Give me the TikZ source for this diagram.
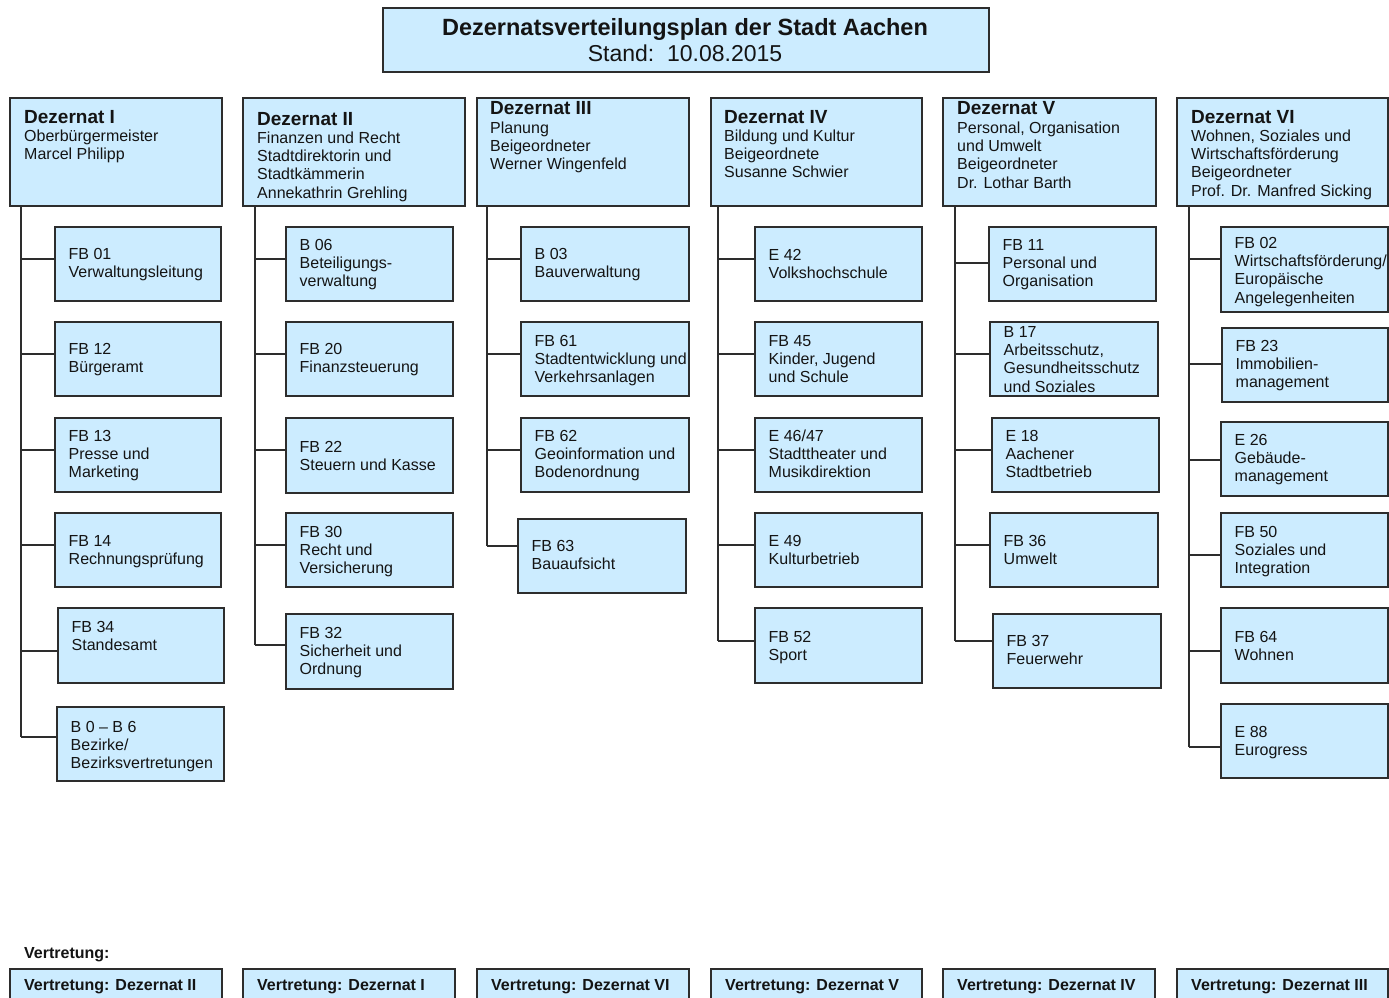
\documentclass[tikz,border=0pt]{standalone}
\usepackage{fontspec}
\setmainfont{Liberation Sans}
\definecolor{boxfill}{RGB}{204,236,255}
\definecolor{boxline}{RGB}{45,45,45}
\definecolor{ink}{RGB}{20,20,20}
\tikzset{
  box/.style={draw=boxline, fill=boxfill, line width=1.4pt, anchor=north west, inner sep=0pt, outer sep=0pt},
  txt/.style={anchor=north west, inner sep=0pt, align=left, text=ink, font=\fontsize{16}{18.3}\selectfont, yshift=7pt},
  head/.style={anchor=base west, inner sep=0pt, text=ink, font=\fontsize{19}{21}\selectfont\bfseries},
  foot/.style={anchor=base west, inner sep=0pt, text=ink, font=\fontsize{16}{18}\selectfont\bfseries},
  conn/.style={draw=boxline, line width=1.4pt},
}
% child box: trunk, name, x1, y1, x2, y2, connector y, first-line y, text
\newcommand\kid[9]{%
  \node[box, minimum width={#5-#3}, minimum height={#6-#4}] (#2) at (#3,#4) {};
  \node[txt] (#2t) at (#3+13.5,#8) {\rule{0pt}{13pt}#9};
  \draw[conn] (#1 |- 0,#7) -- (#2.west |- 0,#7);
}
% dezernat box: name, x1, x2, text x, heading y, body y, heading, body
\newcommand\dez[8]{%
  \node[box, minimum width={#3-#2}, minimum height=108] (#1) at (#2,98) {};
  \node[head] (#1h) at (#4,#5+7) {#7};
  \node[txt] (#1b) at (#4,#6) {\rule{0pt}{13pt}#8};
}
% deputy box: name, x1, x2, text
\newcommand\vtr[4]{%
  \node[box, minimum width={#3-#2}, minimum height=45] (#1) at (#2,969) {};
  \node[foot] (#1t) at (#2+14,990.7) {#4};
}
\begin{document}
\begin{tikzpicture}[x=1pt,y=-1pt]
\useasboundingbox[fill=white] (0,0) rectangle (1389,998);

% title
\node[box, minimum width=606, minimum height=64] (title) at (383,8) {};
\node[anchor=base, inner sep=0pt, text=ink, font=\fontsize{23.5}{26}\selectfont\bfseries] (t1) at (685,35.4) {Dezernatsverteilungsplan der Stadt Aachen};
\node[anchor=base, inner sep=0pt, text=ink, font=\fontsize{23}{26}\selectfont] (t2) at (685,61.2) {Stand:~~10.08.2015};

% Dezernate
\dez{dI}{10}{222}{24}{116}{135}{Dezernat I}{Oberbürgermeister\\Marcel Philipp}
\dez{dII}{243}{465}{257}{118}{137}{Dezernat II}{Finanzen und Recht\\Stadtdirektorin und\\Stadtkämmerin\\Annekathrin Grehling}
\dez{dIII}{477}{689}{490}{107}{127}{Dezernat III}{Planung\\Beigeordneter\\Werner Wingenfeld}
\dez{dIV}{711}{922}{724}{116}{135}{Dezernat IV}{Bildung und Kultur\\Beigeordnete\\Susanne Schwier}
\dez{dV}{943}{1156}{957}{107}{127}{Dezernat V}{Personal, Organisation\\und Umwelt\\Beigeordneter\\Dr. Lothar Barth}
\dez{dVI}{1177}{1388}{1191}{116}{135}{Dezernat VI}{Wohnen, Soziales und\\Wirtschaftsförderung\\Beigeordneter\\Prof. Dr. Manfred Sicking}

% trunks
\coordinate (tI) at (21,0);
\coordinate (tII) at (255,0);
\coordinate (tIII) at (487,0);
\coordinate (tIV) at (718,0);
\coordinate (tV) at (955,0);
\coordinate (tVI) at (1189,0);

\draw[conn] (tI |- dI.south) -- (tI |- 0,737);
\draw[conn] (tII |- dII.south) -- (tII |- 0,645);
\draw[conn] (tIII |- dIII.south) -- (tIII |- 0,546);
\draw[conn] (tIV |- dIV.south) -- (tIV |- 0,641);
\draw[conn] (tV |- dV.south) -- (tV |- 0,641);
\draw[conn] (tVI |- dVI.south) -- (tVI |- 0,747);

% Dezernat I
\kid{tI}{a01}{55}{227}{221}{301}{259}{253}{FB 01\\Verwaltungsleitung}
\kid{tI}{a12}{55}{322}{221}{396}{354}{348}{FB 12\\Bürgeramt}
\kid{tI}{a13}{55}{418}{221}{492}{450}{435}{FB 13\\Presse und\\Marketing}
\kid{tI}{a14}{55}{513}{221}{587}{545}{540}{FB 14\\Rechnungsprüfung}
\kid{tI}{a34}{58}{608}{224}{683}{651}{626}{FB 34\\Standesamt}
\kid{tI}{ab0}{57}{707}{224}{781}{737}{726}{B 0 -- B 6\\Bezirke/\\Bezirksvertretungen}

% Dezernat II
\kid{tII}{b06}{286}{227}{453}{301}{259}{244}{B 06\\Beteiligungs-\\verwaltung}
\kid{tII}{b20}{286}{322}{453}{396}{354}{348}{FB 20\\Finanzsteuerung}
\kid{tII}{b22}{286}{418}{453}{493}{450}{446}{FB 22\\Steuern und Kasse}
\kid{tII}{b30}{286}{513}{453}{587}{545}{531}{FB 30\\Recht und\\Versicherung}
\kid{tII}{b32}{286}{614}{453}{689}{645}{632}{FB 32\\Sicherheit und\\Ordnung}

% Dezernat III
\kid{tIII}{c03}{521}{227}{689}{301}{259}{253}{B 03\\Bauverwaltung}
\kid{tIII}{c61}{521}{322}{689}{396}{354}{340}{FB 61\\Stadtentwicklung und\\Verkehrsanlagen}
\kid{tIII}{c62}{521}{418}{689}{492}{450}{435}{FB 62\\Geoinformation und\\Bodenordnung}
\kid{tIII}{c63}{518}{519}{686}{593}{546}{545}{FB 63\\Bauaufsicht}

% Dezernat IV
\kid{tIV}{d42}{755}{227}{922}{301}{259}{254}{E 42\\Volkshochschule}
\kid{tIV}{d45}{755}{322}{922}{396}{354}{340}{FB 45\\Kinder, Jugend\\und Schule}
\kid{tIV}{d46}{755}{418}{922}{492}{450}{435}{E 46/47\\Stadttheater und\\Musikdirektion}
\kid{tIV}{d49}{755}{513}{922}{587}{545}{540}{E 49\\Kulturbetrieb}
\kid{tIV}{d52}{755}{608}{922}{683}{641}{636}{FB 52\\Sport}

% Dezernat V
\kid{tV}{e11}{989}{227}{1156}{301}{263}{244}{FB 11\\Personal und\\Organisation}
\kid{tV}{e17}{990}{322}{1158}{396}{354}{331}{B 17\\Arbeitsschutz,\\Gesundheitsschutz\\und Soziales}
\kid{tV}{e18}{992}{418}{1159}{492}{450}{435}{E 18\\Aachener\\Stadtbetrieb}
\kid{tV}{e36}{990}{513}{1158}{587}{545}{540}{FB 36\\Umwelt}
\kid{tV}{e37}{993}{614}{1161}{688}{641}{640}{FB 37\\Feuerwehr}

% Dezernat VI
\kid{tVI}{f02}{1221}{227}{1388}{312}{259}{242}{FB 02\\Wirtschaftsförderung/\\Europäische\\Angelegenheiten}
\kid{tVI}{f23}{1222}{328}{1388}{402}{364}{345}{FB 23\\Immobilien-\\management}
\kid{tVI}{f26}{1221}{422}{1388}{496}{460}{439}{E 26\\Gebäude-\\management}
\kid{tVI}{f50}{1221}{513}{1388}{587}{555}{531}{FB 50\\Soziales und\\Integration}
\kid{tVI}{f64}{1221}{608}{1388}{683}{651}{636}{FB 64\\Wohnen}
\kid{tVI}{f88}{1221}{704}{1388}{778}{747}{731}{E 88\\Eurogress}

% Vertretung
\node[foot] (vlab) at (24,958.7) {Vertretung:};
\vtr{vI}{10}{222}{Vertretung: Dezernat II}
\vtr{vII}{243}{455}{Vertretung: Dezernat I}
\vtr{vIII}{477}{689}{Vertretung: Dezernat VI}
\vtr{vIV}{711}{922}{Vertretung: Dezernat V}
\vtr{vV}{943}{1155}{Vertretung: Dezernat IV}
\vtr{vVI}{1177}{1388}{Vertretung: Dezernat III}
\end{tikzpicture}
\end{document}
